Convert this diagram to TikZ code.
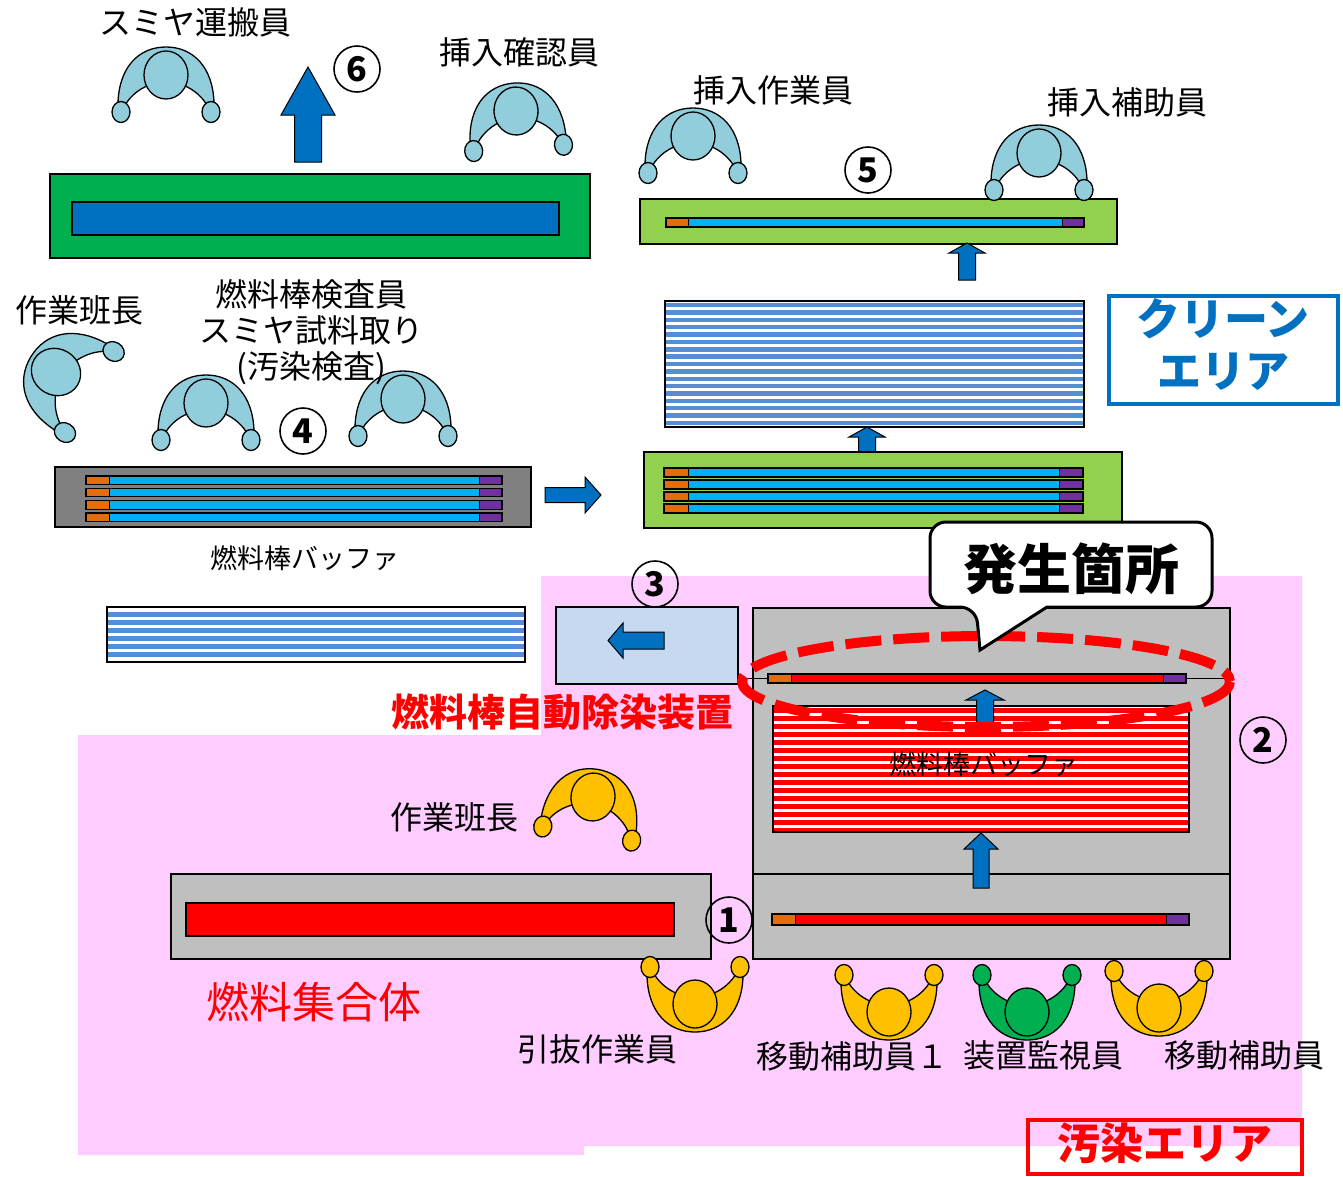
\documentclass[tikz,border=0pt]{standalone}
\usepackage{fontspec}
\setmainfont{Noto Sans CJK JP}
\definecolor{pinkarea}{HTML}{FFCCFF}
\definecolor{lblue}{HTML}{92CDDC}
\definecolor{ppyellow}{HTML}{FFC000}
\definecolor{ppgreen}{HTML}{00B050}
\definecolor{capor}{HTML}{E46C0A}
\definecolor{cappu}{HTML}{7030A0}
\definecolor{rodblue}{HTML}{00B0F0}
\definecolor{limeg}{HTML}{92D050}
\definecolor{darkg}{HTML}{808080}
\definecolor{devg}{HTML}{BFBFBF}
\definecolor{paleblue}{HTML}{C6D9F1}
\definecolor{stripeb}{HTML}{558ED5}
\definecolor{arrowb}{HTML}{0070C0}
\definecolor{boxgreen}{HTML}{00B050}

% fuel rod: x1, x2, ytop, ybottom, body colour, end-cap width
\newcommand\fuelrod[6]{%
  \fill[capor] (#1,#3) rectangle ({#1+#6},#4);
  \fill[cappu] ({#2-#6},#3) rectangle (#2,#4);
  \fill[#5] ({#1+#6},#3) rectangle ({#2-#6},#4);
  \draw[line width=1.2] (#1,#3) rectangle (#2,#4);
  \draw[line width=0.8] ({#1+#6},#3) -- ({#1+#6},#4) ({#2-#6},#3) -- ({#2-#6},#4);
}
% block arrow: base x, base y, rotation, length, shaft half width, head half width, head length
\newcommand\blockarrow[7]{%
  \begin{scope}[shift={(#1,#2)}, rotate=#3]
    \filldraw[fill=arrowb, draw=black, line width=1]
      (-#5,0) -- (-#5,{-(#4-#7)}) -- (-#6,{-(#4-#7)}) -- (0,-#4)
      -- (#6,{-(#4-#7)}) -- (#5,{-(#4-#7)}) -- (#5,0) -- cycle;
  \end{scope}}

\tikzset{
  person/.pic={
    \begin{scope}[draw=black, line width=1.3]
      \filldraw[fill=#1] (-48,28) .. controls (-47,-8) and (-27,-28) .. (0,-28)
        .. controls (27,-28) and (47,-8) .. (48,28) -- (41,30)
        .. controls (33,17) and (18,7) .. (0,7)
        .. controls (-18,7) and (-33,17) .. (-41,30) -- cycle;
      \filldraw[fill=#1] (0,0) ellipse [x radius=22, y radius=24];
      \filldraw[fill=#1] (-45,37) ellipse [x radius=9, y radius=10.5];
      \filldraw[fill=#1] (45,37) ellipse [x radius=9, y radius=10.5];
    \end{scope}
  }
}

\begin{document}
\begin{tikzpicture}[x=1pt, y=-1pt,
  boxline/.style={draw=black, line width=1.5},
  lab/.style={inner sep=0pt, font=\fontsize{32}{36}\selectfont},
  smalllab/.style={inner sep=0pt, font=\fontsize{27}{30}\selectfont},
  numc/.style={circle, draw=black, line width=1.6, minimum size=46pt, inner sep=0pt,
    font=\bfseries\fontsize{34}{34}\selectfont},
]
\useasboundingbox (0,0) rectangle (1343,1176);
\fill[white] (0,0) rectangle (1343,1176);

% contaminated zone
\fill[pinkarea] (541,576) -- (1302,576) -- (1302,1146) -- (584,1146) -- (584,1155)
  -- (78,1155) -- (78,735) -- (541,735) -- cycle;

% ---------- clean side ----------
\draw[boxline, fill=boxgreen] (50,174) rectangle (590,258);
\draw[boxline, fill=arrowb] (72,202) rectangle (559,235);
\blockarrow{308}{162}{0}{95}{13.5}{27}{48}

\draw[boxline, fill=limeg] (640,199) rectangle (1117,244);
\fuelrod{666}{1084}{218}{227}{rodblue}{22}
\blockarrow{967}{280}{0}{37}{8.5}{18}{10}

\fill[white] (665,301) rectangle (1084,427);
\foreach \k in {0,...,16} \fill[stripeb] (665,{303+7.35*\k}) rectangle (1084,{307.4+7.35*\k});
\draw[boxline] (665,301) rectangle (1084,427);
\blockarrow{867}{462}{0}{35}{8.5}{18}{10}

\draw[boxline, fill=limeg] (644,452) rectangle (1122,528);
\foreach \t in {468,480,492,504} {\fuelrod{664}{1083}{\t}{\t+9}{rodblue}{24}}

\draw[boxline, fill=darkg] (55,467) rectangle (531,527);
\foreach \t in {476,488.3,500.6,513} {\fuelrod{86}{502}{\t}{\t+8.5}{rodblue}{23}}
\blockarrow{545}{495}{-90}{56}{7.5}{18}{16}

\fill[white] (107,607) rectangle (525,662);
\foreach \k in {0,...,5} \fill[stripeb] (107,{612+8*\k}) rectangle (525,{616.5+8*\k});
\draw[boxline] (107,607) rectangle (525,662);

% ---------- decontamination device ----------
\draw[boxline, fill=paleblue] (556,607) rectangle (738,684);
\blockarrow{664}{640.5}{90}{56}{8.5}{17.5}{15}

\draw[boxline, fill=devg] (753,608) rectangle (1230,874);
\draw[boxline, fill=devg] (753,874) rectangle (1230,959);
\draw[line width=1] (738,678) -- (1230,678);
\fuelrod{768}{1186}{674}{683}{red}{23}

\fill[white] (773,706) rectangle (1189,832);
\foreach \k in {0,...,15} \fill[red] (773,{708+8*\k}) rectangle (1189,{713+8*\k});
\draw[boxline] (773,706) rectangle (1189,832);
\node[smalllab] (tBuf2) at (984,764) {燃料棒バッファ};
\blockarrow{985}{724}{0}{34}{8.5}{19}{10}
\blockarrow{981}{888}{0}{55}{8}{17}{16}
\fuelrod{772}{1189}{914}{925}{red}{23}

\draw[red, line width=10, dash pattern=on 36pt off 12pt] (986,681.5) ellipse [x radius=244, y radius=45.5];

\draw[line width=3, fill=white] (976,607) -- (980,650) -- (1047,607) [rounded corners=16]
  -- (1212,607) -- (1212,522) -- (930,522) -- (930,607) -- cycle;
\node[inner sep=0pt, font=\bfseries\fontsize{54}{58}\selectfont] (tSpot) at (1071,569) {発生箇所};

% fuel assembly
\draw[boxline, fill=devg] (171,874) rectangle (711,959);
\draw[boxline, fill=red] (186,903) rectangle (674,936);

% ---------- workers ----------
\pic at (166,75) {person=lblue};
\pic[rotate=4] at (516,111) {person=lblue};
\pic at (693,136) {person=lblue};
\pic at (1039,153) {person=lblue};
\pic[rotate=59, scale=1.05] at (56,372) {person=lblue};
\pic at (206,403) {person=lblue};
\pic at (403,399) {person=lblue};
\pic[rotate=-9] at (593,797) {person=ppyellow};
\pic[rotate=180] at (695,1004) {person=ppyellow};
\pic[rotate=180] at (889,1012) {person=ppyellow};
\pic[rotate=180] at (1027,1012) {person=ppgreen};
\pic[rotate=180] at (1159,1008) {person=ppyellow};

% ---------- labels ----------
\node[lab] (tCarrier) at (195,22) {スミヤ運搬員};
\node[lab] (tInsCheck) at (519,52) {挿入確認員};
\node[lab] (tInsWorker) at (773,90) {挿入作業員};
\node[lab] (tInsAssist) at (1127,102) {挿入補助員};
\node[lab] (tLeader1) at (80,310) {作業班長};
\node[lab, align=center] (tInspector) at (311,332) {燃料棒検査員\\スミヤ試料取り\\(汚染検査)};
\node[smalllab] (tBuf1) at (305,558) {燃料棒バッファ};
\node[inner sep=0pt, text=red, font=\bfseries\fontsize{38}{40}\selectfont] (tDevice) at (562,712) {燃料棒自動除染装置};
\node[lab] (tLeader2) at (454,817) {作業班長};
\node[inner sep=0pt, text=red, font=\fontsize{43}{46}\selectfont] (tAssembly) at (314,1002) {燃料集合体};
\node[lab] (tPuller) at (597,1049) {引抜作業員};
\node[lab] (tMove1) at (852,1056) {移動補助員１};
\node[lab] (tMonitor) at (1043,1055) {装置監視員};
\node[lab] (tMove2) at (1244,1055) {移動補助員};

\node[numc] (n1) at (729,920) {1};
\node[numc] (n2) at (1263,740) {2};
\node[numc] (n3) at (655,584) {3};
\node[numc] (n4) at (303,431) {4};
\node[numc] (n5) at (868,170) {5};
\node[numc] (n6) at (357,69) {6};

% area markers
\draw[arrowb, line width=4] (1109,296) rectangle (1338,404);
\node[inner sep=0pt, align=center, text=arrowb, font=\bfseries\fontsize{44}{52}\selectfont] (tClean) at (1223,344) {クリーン\\エリア};
\draw[red, line width=4] (1028,1120) rectangle (1302,1174);
\node[inner sep=0pt, text=red, font=\bfseries\fontsize{43}{46}\selectfont] (tDirty) at (1165,1143) {汚染エリア};
\end{tikzpicture}
\end{document}
